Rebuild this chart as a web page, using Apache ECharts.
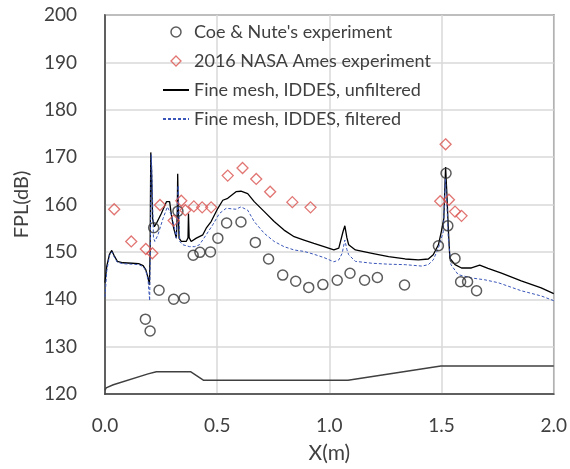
<!DOCTYPE html>
<html lang="en">
<head>
  <meta charset="UTF-8">
  <title>FPL along X</title>
  <script src="https://cdn.jsdelivr.net/npm/echarts@6/dist/echarts.min.js"></script>
  <style>
    html, body { margin: 0; padding: 0; background: #fff; }
  </style>
</head>
<body>
  <div id="main" style="width: 570px;height:469px;"></div>
  <script type="text/javascript">
    // Coe & Nute's experiment (circles)
    var coeX = [0.180, 0.201, 0.217, 0.241, 0.306, 0.325, 0.353, 0.393, 0.423, 0.470, 0.503, 0.542, 0.606, 0.670, 0.729, 0.792,
                0.850, 0.908, 0.971, 1.035, 1.092, 1.157, 1.214, 1.335, 1.486, 1.520, 1.528, 1.560, 1.585, 1.616, 1.656];
    var coeY = [135.8, 133.3, 155.1, 141.9, 140.0, 158.6, 140.2, 149.3, 149.9, 150.0, 152.9, 156.1, 156.3, 152.0, 148.5, 145.1,
                143.8, 142.5, 143.1, 144.0, 145.5, 144.0, 144.6, 143.0, 151.3, 166.6, 155.5, 148.6, 143.7, 143.7, 141.8];

    // 2016 NASA Ames experiment (diamonds)
    var nasaX = [0.041, 0.117, 0.182, 0.211, 0.245, 0.306, 0.340, 0.358, 0.396, 0.433, 0.473, 0.547, 0.613, 0.674, 0.736,
                 0.835, 0.916, 1.494, 1.518, 1.533, 1.560, 1.589];
    var nasaY = [159.0, 152.2, 150.6, 149.7, 159.9, 156.6, 160.8, 158.8, 159.6, 159.4, 159.4, 166.1, 167.7, 165.4, 162.7,
                 160.5, 159.4, 160.7, 172.7, 161.0, 158.5, 157.6];

    // Fine mesh, IDDES, unfiltered
    var unfX = [0, 0.008, 0.02, 0.03, 0.04, 0.055, 0.08, 0.12, 0.15, 0.17, 0.182, 0.192, 0.198, 0.201, 0.204, 0.207, 0.212,
                0.22, 0.229, 0.251, 0.274, 0.288, 0.296, 0.306, 0.318, 0.322, 0.324, 0.327, 0.33, 0.34, 0.362, 0.37, 0.372,
                0.375, 0.384, 0.407, 0.436, 0.451, 0.473, 0.503, 0.525, 0.547, 0.584, 0.606, 0.636, 0.665, 0.71, 0.754,
                0.798, 0.843, 0.887, 0.931, 0.976, 1.02, 1.042, 1.061, 1.069, 1.078, 1.086, 1.116, 1.19, 1.264, 1.338,
                1.397, 1.441, 1.463, 1.486, 1.50, 1.51, 1.518, 1.524, 1.53, 1.537, 1.56, 1.589, 1.633, 1.67, 1.707, 1.767,
                1.855, 1.944, 2.0];
    var unfY = [143.5, 147.0, 149.5, 150.3, 149.3, 148.0, 147.7, 147.6, 147.5, 147.1, 146.2, 144.5, 143.0, 150.0, 171.0, 168.0,
                157.0, 155.3, 156.0, 158.1, 160.6, 160.6, 157.8, 155.0, 152.9, 158.0, 166.5, 158.0, 152.9, 152.2, 152.2, 153.0,
                158.1, 153.0, 152.2, 152.9, 153.6, 155.0, 156.4, 159.2, 160.9, 161.3, 162.7, 162.8, 162.3, 160.6, 158.5, 156.4,
                154.6, 153.2, 152.5, 151.8, 151.1, 150.4, 150.8, 154.3, 155.5, 153.0, 151.5, 150.4, 149.7, 149.0, 148.5,
                148.3, 148.5, 149.4, 151.5, 154.5, 157.0, 167.9, 162.0, 155.0, 148.7, 147.3, 146.6, 146.6, 147.2, 146.5, 145.5,
                143.9, 142.4, 141.2];

    // Fine mesh, IDDES, filtered
    var filX = [0, 0.008, 0.02, 0.03, 0.04, 0.055, 0.08, 0.12, 0.15, 0.17, 0.182, 0.192, 0.199, 0.202, 0.206, 0.21, 0.216,
                0.222, 0.236, 0.259, 0.278, 0.296, 0.31, 0.318, 0.322, 0.326, 0.333, 0.347, 0.377, 0.4, 0.421, 0.451, 0.48,
                0.51, 0.54, 0.584, 0.606, 0.636, 0.665, 0.71, 0.754, 0.798, 0.843, 0.887, 0.931, 0.976, 1.02, 1.042, 1.057,
                1.069, 1.078, 1.086, 1.116, 1.19, 1.264, 1.338, 1.412, 1.441, 1.463, 1.486, 1.508, 1.517, 1.524, 1.53, 1.542,
                1.574, 1.633, 1.693, 1.752, 1.855, 1.944, 2.0];
    var filY = [140.5, 146.0, 149.2, 150.0, 149.0, 147.8, 147.5, 147.4, 147.3, 146.9, 146.0, 144.0, 139.7, 150.0, 170.5, 165.0,
                153.0, 152.2, 153.6, 157.1, 159.5, 157.8, 155.0, 152.9, 158.0, 164.0, 152.2, 151.5, 151.1, 151.1, 151.5, 153.6,
                155.7, 158.1, 159.2, 159.0, 159.5, 158.8, 156.4, 153.9, 152.2, 151.1, 150.4, 150.1, 149.5, 148.8, 147.9, 148.3,
                149.7, 152.5, 150.5, 149.4, 148.0, 147.6, 147.4, 147.3, 147.0, 147.3, 148.3, 150.8, 154.3, 165.5, 160.0, 152.9,
                147.3, 145.2, 144.5, 144.1, 143.5, 141.8, 140.7, 139.7];

    // geometry profile along the bottom
    var geoX = [0, 0.005, 0.037, 0.192, 0.229, 0.381, 0.44, 1.083, 1.497, 2.0];
    var geoY = [120.8, 121.3, 121.95, 124.25, 124.7, 124.7, 122.9, 122.9, 125.9, 125.9];

    var legendNames = ["Coe & Nute's experiment", '2016 NASA Ames experiment',
                       'Fine mesh, IDDES, unfiltered', 'Fine mesh, IDDES, filtered'];

    function pairs(xs, ys) {
      return xs.map(function (x, i) { return [x, ys[i]]; });
    }

    var font = 'Lato';
    var txt = '#404040';
    var diamondIcon = 'path://M5,0 L10,5 L5,10 L0,5 Z';
    var circleIcon = 'path://M5,0 A5,5 0 1,1 4.99,0 Z';

    var myChart = echarts.init(document.getElementById('main'));

    var option = {
      animation: false,
      grid: {
        left: 105, right: 14, top: 15, bottom: 72,
        show: true,
        borderColor: '#404040',
        borderWidth: 1.5
      },
      legend: {
        orient: 'vertical',
        left: 162,
        top: 23,
        itemWidth: 26,
        itemHeight: 10,
        itemGap: 11,
        padding: 0,
        symbolKeepAspect: true,
        textStyle: { fontFamily: font, fontSize: 18, color: txt },
        data: [
          { name: legendNames[0], icon: circleIcon,
            itemStyle: { color: 'rgba(255,255,255,0)', borderColor: '#333', borderWidth: 1.5 } },
          { name: legendNames[1], icon: diamondIcon,
            itemStyle: { color: 'rgba(255,255,255,0)', borderColor: '#d9534f', borderWidth: 1.3 } },
          { name: legendNames[2], itemStyle: { opacity: 0 } },
          { name: legendNames[3], itemStyle: { opacity: 0 } }
        ]
      },
      xAxis: {
        type: 'value',
        min: 0,
        max: 2.0,
        interval: 0.5,
        name: 'X(m)',
        nameLocation: 'middle',
        nameGap: 49,
        nameTextStyle: { fontFamily: font, fontSize: 21, color: txt },
        axisLine: { show: true, lineStyle: { color: '#404040', width: 1.5 } },
        axisTick: { show: false },
        axisLabel: {
          margin: 22,
          fontFamily: font, fontSize: 19, color: txt,
          formatter: function (v) { return v.toFixed(1); }
        },
        splitLine: { show: true, lineStyle: { color: '#d9d9d9', width: 1.5 } }
      },
      yAxis: {
        type: 'value',
        min: 120,
        max: 200,
        interval: 10,
        name: 'FPL(dB)',
        nameLocation: 'middle',
        nameGap: 73,
        nameTextStyle: { fontFamily: font, fontSize: 20, color: txt },
        axisLine: { show: true, lineStyle: { color: '#404040', width: 1.5 } },
        axisTick: { show: false },
        axisLabel: { margin: 28, fontFamily: font, fontSize: 19, color: txt },
        splitLine: { show: true, lineStyle: { color: '#d9d9d9', width: 1.5 } }
      },
      series: [
        {
          name: legendNames[2],
          type: 'line',
          data: pairs(unfX, unfY),
          symbol: 'none',
          z: 2,
          lineStyle: { color: '#000', width: 1.3 },
          itemStyle: { color: '#000' }
        },
        {
          name: legendNames[3],
          type: 'line',
          data: pairs(filX, filY),
          symbol: 'none',
          z: 3,
          lineStyle: { color: '#3a56b8', width: 1, type: [3, 2] },
          itemStyle: { color: '#3a56b8' }
        },
        {
          name: 'geometry',
          type: 'line',
          data: pairs(geoX, geoY),
          symbol: 'none',
          lineStyle: { color: '#404040', width: 1.5 },
          itemStyle: { color: '#404040' }
        },
        {
          name: legendNames[0],
          type: 'scatter',
          data: pairs(coeX, coeY),
          symbol: 'circle',
          symbolSize: 10,
          z: 4,
          itemStyle: { color: 'rgba(255,255,255,0)', borderColor: '#333', borderWidth: 1.5 }
        },
        {
          name: legendNames[1],
          type: 'scatter',
          data: pairs(nasaX, nasaY),
          symbol: 'diamond',
          symbolSize: 11,
          z: 4,
          itemStyle: { color: 'rgba(255,255,255,0)', borderColor: '#d9534f', borderWidth: 1.3 }
        }
      ]
    };

    myChart.setOption(option);
  </script>
</body>
</html>
